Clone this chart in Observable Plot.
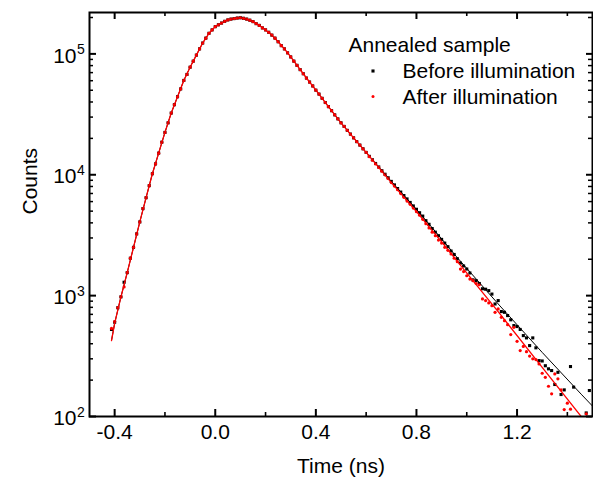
<!DOCTYPE html>
<html><head><meta charset="utf-8">
<script src="https://cdn.jsdelivr.net/npm/d3@7"></script>
<script src="https://cdn.jsdelivr.net/npm/@observablehq/plot@0.6"></script>
<style>body{margin:0;background:#fff} svg{display:block}</style>
</head><body><div id="chart"></div>
<script>
// time bins (ns)
const times = [-0.4125,-0.4,-0.3875,-0.375,-0.3625,-0.35,-0.3375,-0.325,-0.3125,-0.3,-0.2875,-0.275,-0.2625,-0.25,-0.2375,-0.225,-0.2125,-0.2,-0.1875,-0.175,-0.1625,-0.15,-0.1375,-0.125,-0.1125,-0.1,-0.0875,-0.075,-0.0625,-0.05,-0.0375,-0.025,-0.0125,0,0.0125,0.025,0.0375,0.05,0.0625,0.075,0.0875,0.1,0.1125,0.125,0.1375,0.15,0.1625,0.175,0.1875,0.2,0.2125,0.225,0.2375,0.25,0.2625,0.275,0.2875,0.3,0.3125,0.325,0.3375,0.35,0.3625,0.375,0.3875,0.4,0.4125,0.425,0.4375,0.45,0.4625,0.475,0.4875,0.5,0.5125,0.525,0.5375,0.55,0.5625,0.575,0.5875,0.6,0.6125,0.625,0.6375,0.65,0.6625,0.675,0.6875,0.7,0.7125,0.725,0.7375,0.75,0.7625,0.775,0.7875,0.8,0.8125,0.825,0.8375,0.85,0.8625,0.875,0.8875,0.9,0.9125,0.925,0.9375,0.95,0.9625,0.975,0.9875,1.0,1.0125,1.025,1.0375,1.05,1.0625,1.075,1.0875,1.1,1.1125,1.125,1.1375,1.15,1.1625,1.175,1.1875,1.2,1.2125,1.225,1.2375,1.25,1.2625,1.275,1.2875,1.3,1.3125,1.325,1.3375,1.35,1.3625,1.375,1.3875,1.4,1.4125,1.425,1.4375,1.45,1.4625,1.475,1.4875];

// counts, before illumination (black squares)
const beforeCounts = [525,603,794,977,1290,1550,2040,2510,3240,4070,5250,6460,8130,10200,12300,15100,18600,22400,26900,32400,38000,44200,51300,60300,67600,77600,87100,97700,110000,123000,135000,148000,158000,168000,174000,180000,186000,191000,194000,196000,198000,199000,197000,194000,190000,185000,178000,172000,164000,158000,151000,143000,135000,126000,117000,110000,102000,94400,87100,80400,74100,68500,63100,58500,54300,50100,46500,42900,39600,36600,33900,31300,29000,26900,25100,23300,21700,20200,18800,17600,16400,
15300,14200,13300,12400,11600,10800,10100,9440,8810,8240,7690,7190,6730,6310,5900,5520,5180,4850,4550,
4170,3890,3590,3350,3130,2920,2720,2540,2340,2190,2020,1860,1760,1660,1540,1350,1330,1260,1140,1130,1100,1030,853,910,738,728,684,631,565,555,525,467,447,386,447,370,290,288,263,248,240,184,232,152,166,null,259,175,null,null,null,107,164];

// counts, after illumination (red dots)
const afterCounts = [535,610,794,977,1180,1550,2040,2510,3240,4070,5250,6460,8130,10200,12300,15100,18600,22400,26900,32400,38000,44200,51300,60300,67600,77600,87100,97700,110000,123000,135000,148000,158000,168000,174000,180000,186000,191000,194000,196000,198000,199000,197000,194000,190000,185000,178000,172000,164000,158000,151000,143000,135000,126000,117000,110000,102000,94400,87100,80400,74100,68500,63100,58500,54300,50100,46500,42900,39600,36600,33900,31300,29000,26900,25100,23300,21700,20200,18800,17600,16400,
15300,14100,13200,12300,11500,10700,9980,9320,8610,8060,7520,6990,6500,6060,5690,5300,4950,4630,4280,
3940,3630,3350,3130,2880,2720,2510,2370,2210,2040,1910,1660,1580,1460,1370,1330,1260,1230,940,910,871,826,728,776,661,621,575,476,547,419,351,380,344,316,300,296,272,228,211,178,154,225,205,166,114,129,115,null,null,null,null,105,null];

// fitted curves
const fitTimes = [-0.4125,-0.4,-0.375,-0.35,-0.325,-0.3,-0.275,-0.25,-0.225,-0.2,-0.175,-0.15,-0.125,-0.1,-0.075,-0.05,-0.025,0,0.025,0.05,0.075,0.1,0.125,0.15,0.175,0.2,0.225,0.25,0.275,0.3,0.325,0.35,0.375,0.4,0.45,0.5,0.55,0.6,0.7,0.8,0.9,0.96,1.132,1.3,1.455,1.5];
const beforeFit = [425,590,977,1550,2510,4070,6460,10200,15100,22400,32400,44200,60300,77600,97700,123000,148000,168000,180000,191000,196000,199000,194000,185000,172000,158000,143000,126000,110000,94400,80400,68500,58500,50100,36600,26900,20200,15300,8810,5180,2950,2090,822,339,153,122];
const afterFit = [425,590,977,1550,2510,4070,6460,10200,15100,22400,32400,44200,60300,77600,97700,123000,148000,168000,180000,191000,196000,199000,194000,185000,172000,158000,143000,126000,110000,94400,80400,68500,58500,50100,36600,26900,20200,15300,8610,4950,2790,1950,706,255,100,76];

// ticks and labels
const xMajorTicks = [-0.4, 0, 0.4, 0.8, 1.2];
const xMinorTicks = [-0.2, 0.2, 0.6, 1.0, 1.4];
const yMajorTicks = [100, 1000, 10000, 100000];
const yExponents = ["2", "3", "4", "5"];
const yMinorTicks = [200,300,400,500,600,700,800,900,2000,3000,4000,5000,6000,7000,8000,9000,20000,30000,40000,50000,60000,70000,80000,90000,200000];
const legendTitle = "Annealed sample";
const seriesNames = ["Before illumination", "After illumination"];
const xTitle = "Time (ns)";
const yTitle = "Counts";

const W = 593, H = 479, mL = 89, mR = 1, mT = 12, mB = 63;
const iW = W - mL - mR, iH = H - mT - mB;

const toRows = (ts, vals) => ts.map((t, i) => ({t, c: vals[i]})).filter(d => d.c != null);
const beforeRows = toRows(times, beforeCounts);
const afterRows = toRows(times, afterCounts);
const beforeFitRows = toRows(fitTimes, beforeFit);
const afterFitRows = toRows(fitTimes, afterFit);

const RED = "#ff0000";
const font = 21;

const chart = Plot.plot({
  width: W, height: H,
  marginLeft: mL, marginRight: mR, marginTop: mT, marginBottom: mB,
  style: {fontFamily: "'Liberation Sans', Arial, Helvetica, sans-serif", fontSize: "21px", background: "#fff", color: "#000"},
  x: {domain: [-0.5, 1.5], axis: null},
  y: {type: "log", domain: [100, 220000], axis: null},
  marks: [
    // data
    Plot.dot(beforeRows, {x: "t", y: "c", symbol: "square", r: 1.75, fill: "#000", stroke: "none"}),
    Plot.dot(afterRows, {x: "t", y: "c", symbol: "circle", r: 1.6, fill: RED, stroke: "none"}),
    Plot.line(beforeFitRows, {x: "t", y: "c", stroke: "#000", strokeWidth: 1, clip: true}),
    Plot.line(afterFitRows, {x: "t", y: "c", stroke: RED, strokeWidth: 1.3, clip: true}),
    // frame
    Plot.frame({stroke: "#000", strokeWidth: 2}),
    // x ticks (inward, bottom and top)
    Plot.tickX(xMajorTicks, {x: d => d, insetTop: iH - 7, stroke: "#000", strokeWidth: 2}),
    Plot.tickX(xMajorTicks, {x: d => d, insetBottom: iH - 7, stroke: "#000", strokeWidth: 2}),
    Plot.tickX(xMinorTicks, {x: d => d, insetTop: iH - 4, stroke: "#000", strokeWidth: 1.6}),
    Plot.tickX(xMinorTicks, {x: d => d, insetBottom: iH - 4, stroke: "#000", strokeWidth: 1.6}),
    // y ticks (inward, left and right)
    Plot.tickY(yMajorTicks, {y: d => d, insetRight: iW - 7, stroke: "#000", strokeWidth: 2}),
    Plot.tickY(yMajorTicks, {y: d => d, insetLeft: iW - 6, stroke: "#000", strokeWidth: 2}),
    Plot.tickY(yMinorTicks, {y: d => d, insetRight: iW - 4, stroke: "#000", strokeWidth: 1.5}),
    Plot.tickY(yMinorTicks, {y: d => d, insetLeft: iW - 4, stroke: "#000", strokeWidth: 1.5}),
    // x tick labels
    Plot.text(xMajorTicks, {x: d => d, text: d => d.toFixed(1), frameAnchor: "bottom", lineAnchor: "top", dy: 8, fontSize: font, fill: "#000"}),
    // y tick labels 10^n
    Plot.text(yMajorTicks, {y: d => d, text: () => "10", frameAnchor: "left", textAnchor: "end", lineAnchor: "middle", dx: -13, dy: 2, fontSize: font, fill: "#000"}),
    Plot.text(yMajorTicks, {y: d => d, text: (d, i) => yExponents[i], frameAnchor: "left", textAnchor: "start", lineAnchor: "middle", dx: -12.5, dy: -4, fontSize: 14, fill: "#000"}),
    // axis titles
    Plot.text([yTitle], {frameAnchor: "left", lineAnchor: "middle", rotate: -90, dx: -59, fontSize: font, fill: "#000"}),
    Plot.text([xTitle], {frameAnchor: "bottom", lineAnchor: "middle", dy: 50, fontSize: font, fill: "#000"}),
    // legend
    Plot.text([legendTitle], {frameAnchor: "top-left", textAnchor: "start", lineAnchor: "middle", dx: 259, dy: 32.5, fontSize: font, fill: "#000"}),
    Plot.text([seriesNames[0]], {frameAnchor: "top-left", textAnchor: "start", lineAnchor: "middle", dx: 313, dy: 59, fontSize: font, fill: "#000"}),
    Plot.text([seriesNames[1]], {frameAnchor: "top-left", textAnchor: "start", lineAnchor: "middle", dx: 313, dy: 84.5, fontSize: font, fill: "#000"}),
    Plot.dot([seriesNames[0]], {frameAnchor: "top-left", dx: 283.5, dy: 58.5, symbol: "square", r: 1.75, fill: "#000", stroke: "none"}),
    Plot.dot([seriesNames[1]], {frameAnchor: "top-left", dx: 283.5, dy: 84, symbol: "circle", r: 1.5, fill: RED, stroke: "none"})
  ]
});
document.getElementById("chart").appendChild(chart);
</script>
</body></html>
